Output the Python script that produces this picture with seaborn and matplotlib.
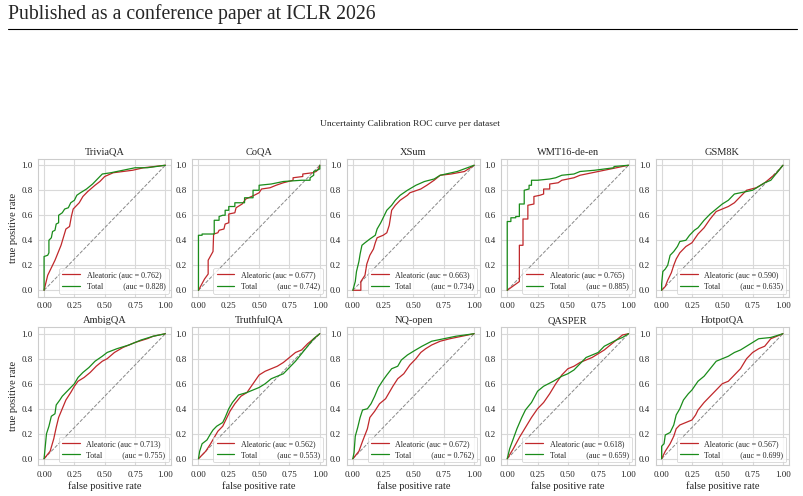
import matplotlib
matplotlib.use("Agg")
import matplotlib.pyplot as plt
from matplotlib.lines import Line2D
import seaborn as sns
import pandas as pd

# ---------------- data ----------------
datasets = ["TriviaQA", "CoQA", "XSum", "WMT16-de-en", "GSM8K",
            "AmbigQA", "TruthfulQA", "NQ-open", "QASPER", "HotpotQA"]
auc_aleatoric = [0.762, 0.677, 0.663, 0.765, 0.590, 0.713, 0.562, 0.672, 0.618, 0.567]
auc_total = [0.828, 0.742, 0.734, 0.885, 0.635, 0.755, 0.553, 0.762, 0.659, 0.699]

triviaqa_aleatoric = [(0,0),(0.03,0.12),(0.09,0.24),(0.14,0.36),(0.18,0.49),(0.21,0.51),(0.225,0.59),
    (0.24,0.65),(0.29,0.70),(0.32,0.75),(0.36,0.79),(0.42,0.84),(0.46,0.87),(0.5,0.91),(0.57,0.94),
    (0.73,0.96),(0.82,0.98),(1,1)]
triviaqa_total = [(0,0),(0,0.27),(0.03,0.28),(0.04,0.3),(0.04,0.4),(0.06,0.42),(0.07,0.47),(0.09,0.48),
    (0.1,0.53),(0.12,0.54),(0.12,0.6),(0.15,0.62),(0.17,0.65),(0.2,0.66),(0.22,0.7),(0.25,0.72),
    (0.27,0.76),(0.3,0.78),(0.35,0.81),(0.4,0.85),(0.45,0.9),(0.48,0.93),(0.55,0.94),(0.65,0.96),
    (0.75,0.98),(0.85,0.98),(1,1)]

coqa_aleatoric = [(0,0),(0.05,0.09),(0.08,0.13),(0.08,0.24),(0.12,0.31),(0.125,0.45),(0.16,0.46),
    (0.17,0.48),(0.21,0.49),(0.22,0.53),(0.25,0.54),(0.25,0.61),(0.3,0.62),(0.31,0.66),(0.36,0.69),
    (0.39,0.73),(0.46,0.76),(0.5,0.78),(0.52,0.81),(0.59,0.82),(0.64,0.84),(0.7,0.86),(0.78,0.88),
    (0.78,0.9),(0.86,0.91),(0.86,0.93),(0.94,0.94),(0.97,0.95),(0.99,0.97),(1,1)]
coqa_total = [(0,0),(0,0.44),(0.03,0.44),(0.03,0.45),(0.13,0.45),(0.13,0.56),(0.17,0.56),(0.17,0.59),
    (0.2,0.6),(0.22,0.6),(0.22,0.64),(0.25,0.64),(0.25,0.67),(0.3,0.67),(0.3,0.7),(0.38,0.7),
    (0.38,0.74),(0.45,0.74),(0.45,0.8),(0.5,0.8),(0.5,0.84),(0.6,0.85),(0.65,0.86),(0.7,0.87),
    (0.85,0.88),(0.92,0.88),(0.92,0.9),(0.95,0.92),(0.95,0.95),(1,0.97),(1,1)]

xsum_aleatoric = [(0,0),(0.066,0),(0.066,0.07),(0.1,0.12),(0.115,0.21),(0.14,0.28),(0.17,0.33),
    (0.185,0.38),(0.2,0.42),(0.25,0.44),(0.28,0.46),(0.3,0.52),(0.31,0.58),(0.32,0.64),(0.35,0.68),
    (0.39,0.72),(0.45,0.76),(0.47,0.78),(0.56,0.81),(0.61,0.84),(0.67,0.88),(0.72,0.92),(0.81,0.93),
    (0.92,0.95),(1,1)]
xsum_total = [(0,0),(0.02,0.07),(0.03,0.15),(0.05,0.23),(0.06,0.29),(0.075,0.36),(0.1,0.38),
    (0.14,0.41),(0.185,0.44),(0.2,0.49),(0.23,0.54),(0.25,0.58),(0.28,0.64),(0.32,0.68),(0.35,0.72),
    (0.39,0.76),(0.45,0.8),(0.52,0.84),(0.59,0.87),(0.67,0.89),(0.72,0.92),(0.86,0.95),(1,1)]

wmt_aleatoric = [(0,0),(0.1,0.07),(0.1,0.36),(0.13,0.36),(0.13,0.57),(0.17,0.57),(0.17,0.68),
    (0.22,0.69),(0.22,0.75),(0.27,0.76),(0.3,0.77),(0.3,0.81),(0.35,0.81),(0.35,0.85),(0.42,0.86),
    (0.45,0.88),(0.5,0.89),(0.55,0.9),(0.6,0.92),(0.7,0.94),(0.8,0.96),(0.9,0.98),(1,1)]
wmt_total = [(0,0),(0,0.55),(0.03,0.55),(0.03,0.58),(0.07,0.58),(0.07,0.59),(0.1,0.59),(0.1,0.69),
    (0.14,0.69),(0.14,0.8),(0.18,0.81),(0.18,0.84),(0.2,0.84),(0.2,0.88),(0.25,0.88),(0.35,0.89),
    (0.4,0.9),(0.45,0.92),(0.55,0.93),(0.6,0.95),(0.72,0.96),(0.8,0.97),(0.88,0.98),(0.88,0.99),(1,1)]

gsm8k_aleatoric = [(0,0),(0.03,0.03),(0.05,0.08),(0.08,0.14),(0.1,0.2),(0.12,0.25),(0.15,0.3),
    (0.2,0.35),(0.25,0.38),(0.3,0.45),(0.35,0.5),(0.4,0.57),(0.45,0.63),(0.5,0.65),(0.55,0.67),
    (0.6,0.7),(0.65,0.75),(0.7,0.8),(0.78,0.82),(0.85,0.86),(0.9,0.9),(0.95,0.94),(1,1)]
gsm8k_total = [(0,0),(0,0.05),(0.01,0.15),(0.03,0.17),(0.05,0.2),(0.07,0.28),(0.1,0.31),(0.13,0.35),
    (0.15,0.39),(0.2,0.4),(0.23,0.44),(0.27,0.48),(0.3,0.5),(0.35,0.56),(0.4,0.61),(0.45,0.65),
    (0.5,0.69),(0.55,0.72),(0.6,0.77),(0.7,0.79),(0.75,0.8),(0.8,0.83),(0.85,0.86),(0.9,0.88),
    (0.95,0.94),(1,1)]

ambigqa_aleatoric = [(0,0),(0.05,0.06),(0.08,0.16),(0.1,0.25),(0.12,0.33),(0.15,0.4),(0.18,0.47),
    (0.22,0.53),(0.25,0.58),(0.28,0.62),(0.33,0.65),(0.38,0.69),(0.43,0.74),(0.48,0.78),(0.52,0.8),
    (0.58,0.85),(0.65,0.89),(0.75,0.93),(0.85,0.96),(0.9,0.98),(1,1)]
ambigqa_total = [(0,0),(0.01,0.1),(0.02,0.2),(0.04,0.26),(0.06,0.34),(0.09,0.36),(0.1,0.43),
    (0.13,0.47),(0.15,0.5),(0.2,0.55),(0.25,0.6),(0.28,0.65),(0.32,0.69),(0.37,0.73),(0.42,0.78),
    (0.48,0.82),(0.52,0.85),(0.6,0.88),(0.7,0.91),(0.8,0.95),(0.9,0.98),(1,1)]

truthfulqa_aleatoric = [(0,0),(0.03,0.03),(0.06,0.06),(0.1,0.12),(0.13,0.17),(0.16,0.22),(0.2,0.26),
    (0.23,0.32),(0.26,0.38),(0.3,0.44),(0.35,0.5),(0.4,0.53),(0.45,0.6),(0.5,0.67),(0.55,0.7),
    (0.6,0.72),(0.65,0.74),(0.7,0.77),(0.75,0.81),(0.8,0.85),(0.85,0.87),(0.9,0.92),(0.95,0.96),(1,1)]
truthfulqa_total = [(0,0),(0.01,0.06),(0.03,0.12),(0.07,0.15),(0.1,0.2),(0.12,0.23),(0.15,0.26),
    (0.2,0.29),(0.22,0.33),(0.25,0.4),(0.28,0.45),(0.33,0.51),(0.4,0.53),(0.45,0.55),(0.5,0.57),
    (0.55,0.6),(0.6,0.64),(0.65,0.66),(0.7,0.68),(0.75,0.73),(0.8,0.78),(0.85,0.84),(0.9,0.9),
    (0.95,0.96),(1,1)]

nqopen_aleatoric = [(0,0),(0.05,0.06),(0.08,0.14),(0.12,0.24),(0.14,0.33),(0.18,0.38),(0.22,0.44),
    (0.27,0.48),(0.3,0.53),(0.33,0.58),(0.37,0.64),(0.42,0.68),(0.47,0.75),(0.52,0.8),(0.56,0.85),
    (0.6,0.88),(0.65,0.91),(0.72,0.94),(0.8,0.96),(0.9,0.98),(1,1)]
nqopen_total = [(0,0),(0.01,0.05),(0.02,0.18),(0.04,0.25),(0.06,0.33),(0.08,0.39),(0.12,0.4),
    (0.15,0.44),(0.18,0.5),(0.21,0.57),(0.25,0.63),(0.28,0.67),(0.32,0.72),(0.37,0.74),(0.4,0.79),
    (0.45,0.83),(0.5,0.86),(0.57,0.9),(0.65,0.94),(0.75,0.96),(0.85,0.98),(1,1)]

qasper_aleatoric = [(0,0),(0.05,0.08),(0.1,0.17),(0.15,0.25),(0.2,0.33),(0.25,0.4),(0.3,0.45),
    (0.35,0.52),(0.4,0.6),(0.45,0.67),(0.5,0.72),(0.55,0.74),(0.6,0.77),(0.65,0.79),(0.7,0.81),
    (0.75,0.84),(0.8,0.87),(0.85,0.91),(0.9,0.95),(0.95,0.99),(1,1)]
qasper_total = [(0,0),(0.02,0.08),(0.05,0.16),(0.08,0.24),(0.12,0.33),(0.15,0.39),(0.2,0.45),
    (0.25,0.54),(0.3,0.58),(0.38,0.62),(0.45,0.66),(0.5,0.68),(0.55,0.71),(0.6,0.76),(0.65,0.81),
    (0.7,0.83),(0.75,0.85),(0.8,0.9),(0.9,0.95),(0.95,0.97),(1,1)]

hotpotqa_aleatoric = [(0,0),(0.03,0.06),(0.07,0.12),(0.1,0.18),(0.12,0.24),(0.15,0.27),(0.2,0.29),
    (0.25,0.31),(0.28,0.35),(0.3,0.39),(0.35,0.45),(0.4,0.5),(0.45,0.55),(0.5,0.6),(0.55,0.62),
    (0.6,0.67),(0.65,0.72),(0.7,0.8),(0.75,0.85),(0.8,0.88),(0.85,0.9),(0.9,0.96),(1,1)]
hotpotqa_total = [(0,0),(0,0.1),(0.02,0.12),(0.03,0.19),(0.07,0.21),(0.1,0.27),(0.12,0.35),
    (0.15,0.4),(0.18,0.47),(0.22,0.52),(0.25,0.55),(0.3,0.62),(0.35,0.66),(0.4,0.72),(0.45,0.78),
    (0.5,0.8),(0.55,0.82),(0.6,0.85),(0.65,0.87),(0.7,0.9),(0.75,0.93),(0.8,0.96),(0.9,0.97),(1,1)]

aleatoric_curves = [triviaqa_aleatoric, coqa_aleatoric, xsum_aleatoric, wmt_aleatoric, gsm8k_aleatoric,
                    ambigqa_aleatoric, truthfulqa_aleatoric, nqopen_aleatoric, qasper_aleatoric,
                    hotpotqa_aleatoric]
total_curves = [triviaqa_total, coqa_total, xsum_total, wmt_total, gsm8k_total,
                ambigqa_total, truthfulqa_total, nqopen_total, qasper_total, hotpotqa_total]

# ---------------- style ----------------
sns.set_theme(style="whitegrid")
plt.rcParams["font.family"] = ["Liberation Serif", "DejaVu Serif"]
plt.rcParams["axes.edgecolor"] = "#cccccc"
plt.rcParams["grid.color"] = "#d9d9d9"
plt.rcParams["grid.linewidth"] = 0.8

RED = "#c0282b"
GREEN = "#1a8c1a"

fig = plt.figure(figsize=(8.04, 4.96), dpi=100)
axes = fig.subplots(2, 5)
fig.subplots_adjust(left=38/804, right=789/804, top=1-159/496, bottom=1-465/496,
                    wspace=0.157, hspace=0.225)

for i, ax in enumerate(axes.flat):
    ale = pd.DataFrame(aleatoric_curves[i], columns=["fpr", "tpr"])
    tot = pd.DataFrame(total_curves[i], columns=["fpr", "tpr"])
    ax.plot([0, 1], [0, 1], ls="--", color="#888888", lw=0.7, zorder=1)
    sns.lineplot(data=ale, x="fpr", y="tpr", sort=False, estimator=None, ax=ax,
                 color=RED, lw=0.9, label=f"Aleatoric (auc = {auc_aleatoric[i]:.3f})")
    sns.lineplot(data=tot, x="fpr", y="tpr", sort=False, estimator=None, ax=ax,
                 color=GREEN, lw=0.9, label=f"Total          (auc = {auc_total[i]:.3f})")
    ax.set_xlim(-0.05, 1.05)
    ax.set_ylim(-0.05, 1.05)
    ax.set_xticks([0, 0.25, 0.5, 0.75, 1.0])
    ax.set_xticklabels(["0.00", "0.25", "0.50", "0.75", "1.00"])
    ax.set_yticks([0, 0.2, 0.4, 0.6, 0.8, 1.0])
    ax.set_yticklabels(["0.0", "0.2", "0.4", "0.6", "0.8", "1.0"])
    ax.tick_params(labelsize=6.5, pad=2, length=2, color="#cccccc")
    ax.set_title(datasets[i], fontsize=7.5, pad=3)
    ax.set_xlabel("false positive rate" if i >= 5 else "", fontsize=7.5, labelpad=2)
    ax.set_ylabel("true positive rate" if i % 5 == 0 else "", fontsize=7.5, labelpad=2)
    leg = ax.legend(loc="lower right", fontsize=5.8, frameon=True, handlelength=2.2,
                    borderpad=0.4, labelspacing=0.4, borderaxespad=0.35)
    leg.get_frame().set_edgecolor("#cccccc")
    leg.get_frame().set_linewidth(0.6)
    for sp in ax.spines.values():
        sp.set_linewidth(0.8)

fig.text(0.51, 1-124/496, "Uncertainty Calibration ROC curve per dataset",
         ha="center", va="center", fontsize=6.8)

fig.text(8/804, 1-14/496, "Published as a conference paper at ICLR 2026",
         ha="left", va="center", fontsize=14.2, family=["Liberation Serif", "DejaVu Serif"])
fig.add_artist(Line2D([8/804, 797/804], [1-28.5/496, 1-28.5/496], color="black", lw=0.8))

fig.savefig("out.png", dpi=100)
